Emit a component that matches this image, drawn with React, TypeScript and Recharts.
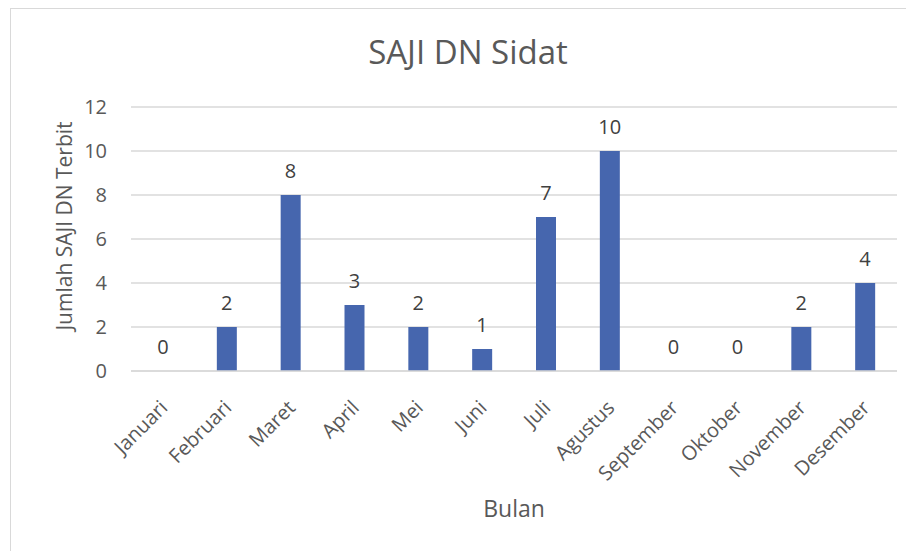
import React from "react";
import { ComposedChart, Bar, Line, XAxis, YAxis, CartesianGrid, LabelList, Label } from "recharts";

const months = ["Januari", "Februari", "Maret", "April", "Mei", "Juni", "Juli", "Agustus", "September", "Oktober", "November", "Desember"];
const counts = [0, 2, 8, 3, 2, 1, 7, 10, 0, 0, 2, 4];
const yTicks = [0, 2, 4, 6, 8, 10, 12];

const data = months.map((m, i) => ({ month: m, value: counts[i] }));

const FONT = "'Open Sans', sans-serif";
const GRAY = "#595959";

const XTick = (props: any) => {
  const { x, y, payload } = props;
  return (
    <g transform={`translate(${x + 6},${y + 30})`}>
      <text x={0} y={0} textAnchor="end" transform="rotate(-45)" fill={GRAY} fontSize={20} fontFamily={FONT}>
        {payload.value}
      </text>
    </g>
  );
};

const ValueLabel = (props: any) => {
  const { x, y, value } = props;
  return (
    <text x={x} y={y - 17} textAnchor="middle" fill="#404040" fontSize={20} fontFamily={FONT}>
      {value}
    </text>
  );
};

export default function App() {
  return (
    <div style={{ position: "relative", marginLeft: 2, width: 914, height: 560, border: "1px solid #d9d9d9", background: "#fff" }}>
      <div style={{ position: "absolute", left: 0, top: 26, width: 914, textAlign: "center", fontFamily: FONT, fontSize: 33, lineHeight: "33px", color: GRAY }}>
        SAJI DN Sidat
      </div>
      <ComposedChart width={914} height={560} data={data} margin={{ top: 98, right: 28, bottom: 48, left: 0 }} barCategoryGap={0}>
        <CartesianGrid vertical={false} stroke="#d9d9d9" strokeWidth={1.5} />
        <XAxis dataKey="month" interval={0} height={150} tick={<XTick />} tickLine={false} axisLine={{ stroke: "#d9d9d9", strokeWidth: 1.5 }}>
          <Label
            content={(p: any) => (
              <text x={p.viewBox.x + p.viewBox.width / 2} y={p.viewBox.y + 146} textAnchor="middle" fill={GRAY} fontSize={23} fontFamily={FONT}>
                Bulan
              </text>
            )}
          />
        </XAxis>
        <YAxis domain={[0, 12]} ticks={yTicks} width={120} tickLine={false} tickSize={0} tickMargin={24} axisLine={false} tick={{ fill: GRAY, fontSize: 20, fontFamily: FONT }}>
          <Label
            content={() => (
              <text x={61} y={217} transform="rotate(-90, 61, 217)" textAnchor="middle" fill={GRAY} fontSize={21} fontFamily={FONT}>
                Jumlah SAJI DN Terbit
              </text>
            )}
          />
        </YAxis>
        <Bar dataKey="value" fill="#4666AE" barSize={20} isAnimationActive={false} />
        <Line dataKey="value" stroke="none" dot={false} activeDot={false} isAnimationActive={false} legendType="none">
          <LabelList dataKey="value" content={<ValueLabel />} />
        </Line>
      </ComposedChart>
    </div>
  );
}
